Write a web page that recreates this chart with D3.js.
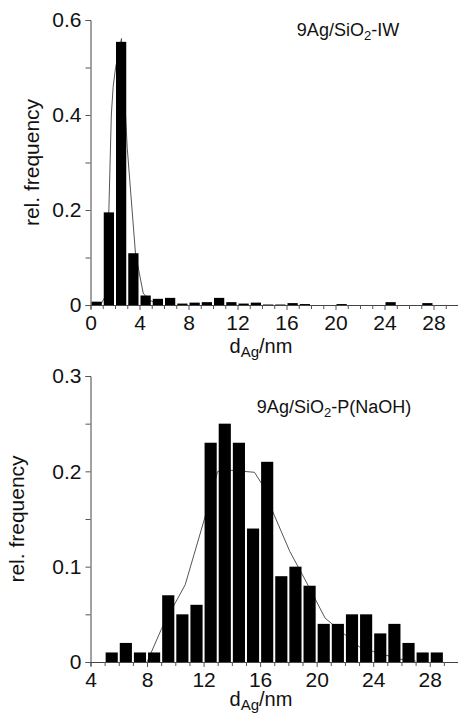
<!DOCTYPE html>
<html>
<head>
<meta charset="utf-8">
<script src="https://cdn.jsdelivr.net/npm/d3@7"></script>
<style>
  body { margin: 0; background: #fff; }
  svg { display: block; font-family: "Liberation Sans", Arial, sans-serif; }
</style>
</head>
<body>
<svg id="chart" width="458" height="716"></svg>
<script>
// top panel: 9Ag/SiO2-IW, 1 nm bins starting at 0
var topBinStart = [0,1,2,3,4,5,6,7,8,9,10,11,12,13,14,15,16,17,18,19,20,21,22,23,24,25,26,27,28,29];
var topFreq = [0.007,0.195,0.554,0.109,0.02,0.013,0.015,0.003,0.005,0.006,0.015,0.006,0.003,0.005,0.001,0.001,0.004,0.002,0,0,0.002,0,0,0,0.006,0,0,0.004,0,0];
var topFitX = [0.8,1.15,1.5,1.7,1.85,2.05,2.53,3.0,3.67,4.3,4.8,5.5];
var topFitY = [0,0.015,0.2,0.4,0.46,0.5,0.561,0.33,0.109,0.025,0.01,0.003];
var topXTicks = [0,4,8,12,16,20,24,28];
var topYTicks = [0,0.2,0.4,0.6];

// bottom panel: 9Ag/SiO2-P(NaOH), 1 nm bins starting at 5
var botBinStart = [5,6,7,8,9,10,11,12,13,14,15,16,17,18,19,20,21,22,23,24,25,26,27,28];
var botFreq = [0.01,0.02,0.01,0.01,0.07,0.05,0.06,0.23,0.25,0.23,0.14,0.21,0.09,0.1,0.08,0.04,0.04,0.05,0.05,0.03,0.04,0.02,0.01,0.01];
var botFitX = [8,9,10,10.7,12.1,13,14,15.6,16.2,17,18.1,19.3,20.6,21.9,23,24,25.4,26.2,27];
var botFitY = [0,0.034,0.062,0.081,0.152,0.2,0.201,0.199,0.185,0.154,0.116,0.083,0.046,0.03,0.016,0.011,0.005,0.002,0.001];
var botXTicks = [4,8,12,16,20,24,28];
var botYTicks = [0,0.1,0.2,0.3];

var svg = d3.select("#chart");

function drawPanel(cfg){
	var g = svg.append("g");
	var x = d3.scaleLinear().domain(cfg.xDomain).range([90.5, 458]);
	var y = d3.scaleLinear().domain(cfg.yDomain).range([cfg.y0, cfg.y1]);

	//fit curve behind the bars
	var line = d3.line().x(d => x(d[0])).y(d => y(d[1]));
	g.append("path")
		.datum(d3.zip(cfg.fitX, cfg.fitY))
		.attr("fill", "none")
		.attr("stroke", "#555")
		.attr("stroke-width", 1)
		.attr("d", line);

	//histogram bars
	g.append("g")
		.selectAll("rect")
		.data(d3.zip(cfg.bins, cfg.freq).filter(d => d[1] > 0))
		.join("rect")
		.attr("x", d => x(d[0]) + 1)
		.attr("width", d => x(d[0] + 1) - x(d[0]) - 2)
		.attr("y", d => y(d[1]))
		.attr("height", d => Math.max(1, y(0) - y(d[1])))
		.attr("fill", "#000");

	//x axis with minor ticks every 1 nm
	var minor = d3.range(cfg.xDomain[0], cfg.xDomain[1] + 1, 1);
	var xAxis = g.append("g")
		.attr("transform", `translate(0,${cfg.y0})`)
		.call(d3.axisBottom(x)
			.tickValues(minor)
			.tickSize(4)
			.tickPadding(6)
			.tickFormat(d => cfg.xTicks.indexOf(d) >= 0 ? d : ""));
	xAxis.select(".domain").attr("stroke", "#444");
	xAxis.selectAll(".tick line").attr("stroke", "#555")
		.attr("y2", d => cfg.xTicks.indexOf(d) >= 0 ? 5 : 4);
	xAxis.selectAll("text").style("font-size", "21px").attr("fill", "#111");

	//y axis with minor ticks
	var yMinor = d3.range(0, cfg.yDomain[1] + 1e-9, cfg.yDomain[1] / 6).map(v => +v.toFixed(3));
	var yAxis = g.append("g")
		.attr("transform", "translate(90.5,0)")
		.call(d3.axisLeft(y)
			.tickValues(yMinor)
			.tickSize(5)
			.tickPadding(4)
			.tickFormat(d => cfg.yTicks.indexOf(d) >= 0 ? (d === 0 ? "0" : d3.format(".1f")(d)) : ""));
	yAxis.select(".domain").attr("stroke", "#444");
	yAxis.selectAll(".tick line").attr("stroke", "#555");
	yAxis.selectAll("text").style("font-size", "21px").attr("fill", "#111");

	//y label
	g.append("text")
		.attr("transform", `translate(${cfg.yLabelX},${(cfg.y0 + cfg.y1) / 2}) rotate(-90)`)
		.attr("text-anchor", "middle")
		.style("font-size", "21px")
		.attr("fill", "#111")
		.text("rel. frequency");

	//x label d_Ag/nm
	var xl = g.append("text")
		.attr("x", 261)
		.attr("y", cfg.y0 + cfg.xLabelDy)
		.attr("text-anchor", "middle")
		.style("font-size", "20px")
		.attr("fill", "#111");
	xl.append("tspan").text("d");
	xl.append("tspan").attr("dy", 4).style("font-size", "15px").text("Ag");
	xl.append("tspan").attr("dy", -4).text("/nm");

	//sample name
	var t = g.append("text")
		.attr("x", cfg.titleX)
		.attr("y", cfg.titleY)
		.attr("text-anchor", "middle")
		.style("font-size", "18px")
		.attr("fill", "#111");
	t.append("tspan").text("9Ag/SiO");
	t.append("tspan").attr("dy", 4).style("font-size", "13px").text("2");
	t.append("tspan").attr("dy", -4).text(cfg.titleEnd);
}

drawPanel({
	xDomain: [0, 30], yDomain: [0, 0.6], y0: 305, y1: 20,
	bins: topBinStart, freq: topFreq, fitX: topFitX, fitY: topFitY,
	xTicks: topXTicks, yTicks: topYTicks, xLabelDy: 48,
	yLabelX: 39, titleX: 348, titleY: 36, titleEnd: "-IW"
});

drawPanel({
	xDomain: [4, 30], yDomain: [0, 0.3], y0: 662, y1: 376,
	bins: botBinStart, freq: botFreq, fitX: botFitX, fitY: botFitY,
	xTicks: botXTicks, yTicks: botYTicks, xLabelDy: 44,
	yLabelX: 24, titleX: 334, titleY: 413, titleEnd: "-P(NaOH)"
});
</script>
</body>
</html>
